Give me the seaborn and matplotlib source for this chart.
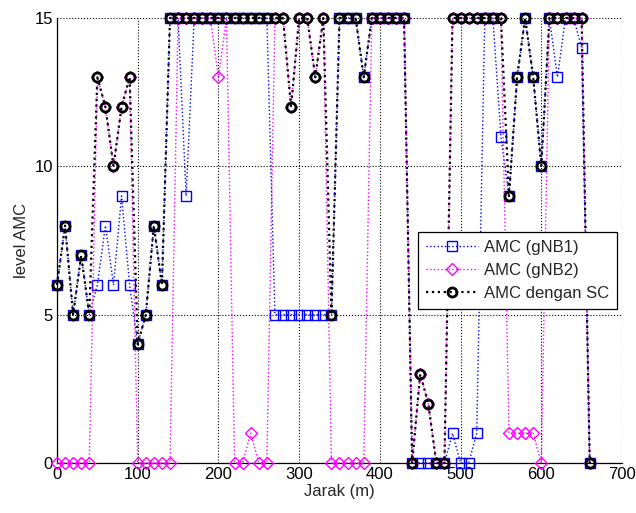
import numpy as np
import pandas as pd
import matplotlib
matplotlib.use("Agg")
import matplotlib.pyplot as plt
import seaborn as sns

# jarak (m), satu titik tiap 10 m
jarak = list(range(0, 670, 10))

amc_gnb1 = [6, 8, 5, 7, 5, 6, 8, 6, 9, 6,
            4, 5, 8, 6, 15, 15, 9, 15, 15, 15,
            15, 15, 15, 15, 15, 15, 15, 5, 5, 5,
            5, 5, 5, 5, 5, 15, 15, 15, 13, 15,
            15, 15, 15, 15, 0, 0, 0, 0, 0, 1,
            0, 0, 1, 15, 15, 11, 9, 13, 15, 13,
            10, 15, 13, 15, 15, 14, 0]

amc_gnb2 = [0, 0, 0, 0, 0, 13, 12, 10, 12, 13,
            0, 0, 0, 0, 0, 15, 15, 15, 15, 15,
            13, 15, 0, 0, 1, 0, 0, 15, 15, 12,
            15, 15, 13, 15, 0, 0, 0, 0, 0, 15,
            15, 15, 15, 15, 0, 3, 2, 0, 0, 15,
            15, 15, 15, 15, 15, 15, 1, 1, 1, 1,
            0, 15, 15, 15, 15, 15, 0]

amc_sc = [6, 8, 5, 7, 5, 13, 12, 10, 12, 13,
          4, 5, 8, 6, 15, 15, 15, 15, 15, 15,
          15, 15, 15, 15, 15, 15, 15, 15, 15, 12,
          15, 15, 13, 15, 5, 15, 15, 15, 13, 15,
          15, 15, 15, 15, 0, 3, 2, 0, 0, 15,
          15, 15, 15, 15, 15, 15, 9, 13, 15, 13,
          10, 15, 15, 15, 15, 15, 0]

x_ticks = [0, 100, 200, 300, 400, 500, 600, 700]
y_ticks = [0, 5, 10, 15]

sns.set_style("white")
plt.rcParams["font.family"] = ["Liberation Sans", "DejaVu Sans"]

fig = plt.figure(figsize=(6.36, 5.13), dpi=100)
ax = fig.add_axes([0.0896, 0.0975, 0.8884, 0.8675])

sns.lineplot(x=jarak, y=amc_gnb1, ax=ax, color="blue", linestyle=":", lw=1,
             marker="s", ms=7.5, mfc="none", mec="blue", mew=1,
             label="AMC (gNB1)", zorder=3, clip_on=False)
sns.lineplot(x=jarak, y=amc_gnb2, ax=ax, color="magenta", linestyle=":", lw=1,
             marker="D", ms=6.5, mfc="none", mec="magenta", mew=1,
             label="AMC (gNB2)", zorder=3, clip_on=False)
sns.lineplot(x=jarak, y=amc_sc, ax=ax, color="black", linestyle=":", lw=1.6,
             marker="o", ms=6.5, mfc="none", mec="black", mew=2,
             label="AMC dengan SC", zorder=4, clip_on=False)

ax.set_xlim(0, 700)
ax.set_ylim(0, 15)
ax.set_xticks(x_ticks)
ax.set_yticks(y_ticks)
ax.grid(True, color="black", linestyle=":", linewidth=0.8)
ax.tick_params(direction="in", length=4, labelsize=12, colors="black", pad=3)
ax.spines["top"].set_visible(False)
ax.spines["right"].set_visible(False)
for s in ("left", "bottom"):
    ax.spines[s].set_color("black")
    ax.spines[s].set_linewidth(0.9)
ax.set_xlabel("Jarak (m)", fontsize=12, labelpad=1)
ax.set_ylabel("level AMC", fontsize=12, labelpad=4)

leg = ax.legend(loc="upper right", bbox_to_anchor=(0.991, 0.519), fontsize=12,
                frameon=True, fancybox=False, edgecolor="black",
                handlelength=3.1, borderpad=0.45, labelspacing=0.5,
                handletextpad=0.4, borderaxespad=0)
leg.get_frame().set_linewidth(0.9)
leg.get_frame().set_alpha(1)
leg.set_zorder(10)

fig.savefig("out.png", dpi=100)
